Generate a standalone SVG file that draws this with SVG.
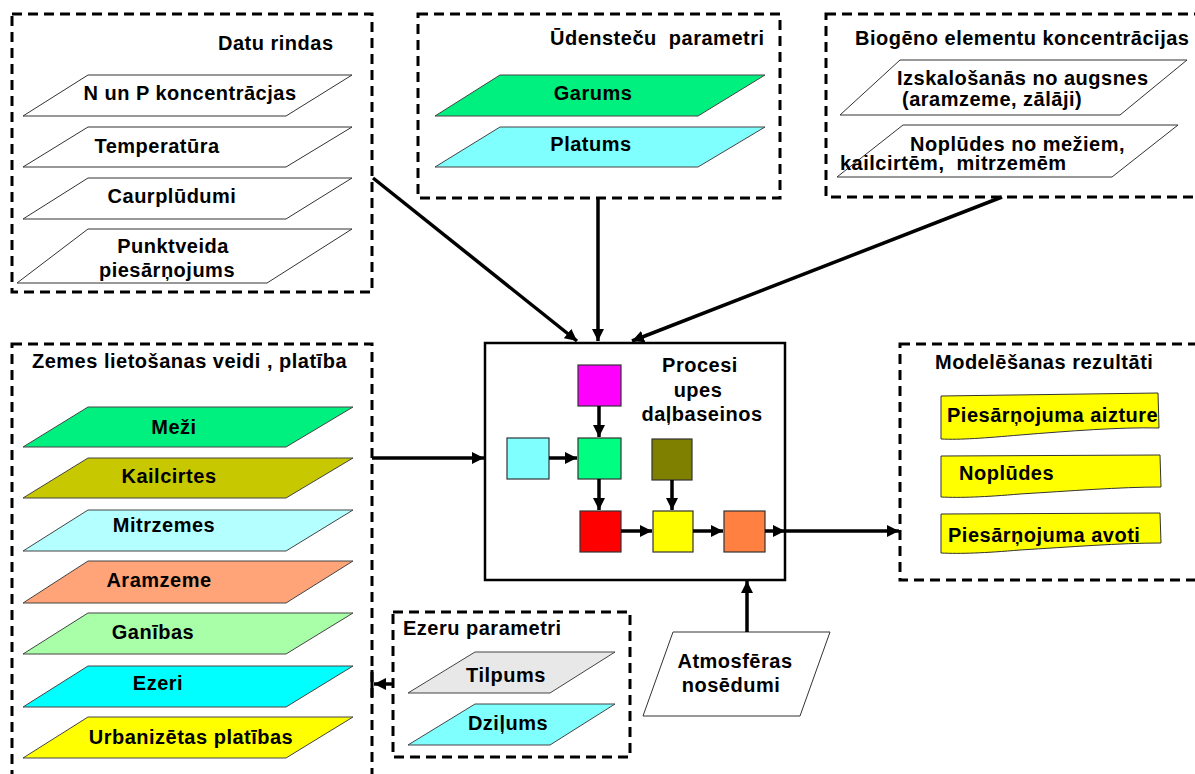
<svg xmlns="http://www.w3.org/2000/svg" width="1195" height="774" viewBox="0 0 1195 774">
<defs>
<style>
.t{font-family:"Liberation Sans",Arial,sans-serif;font-weight:bold;font-size:20px;letter-spacing:0.5px;fill:#000}
.m{text-anchor:middle}
.dash{fill:none;stroke:#000;stroke-width:3;stroke-dasharray:10 6}
.pw{fill:#fff;stroke:#333;stroke-width:1}
.pc{stroke:#444;stroke-width:1}
.sq{stroke:#333;stroke-width:1.2}
.c{fill:none;stroke:#000;stroke-width:3.5}
.doc{fill:#ffff00;stroke:#333;stroke-width:1}
</style>
<marker id="ah" markerUnits="userSpaceOnUse" markerWidth="14" markerHeight="12" refX="12" refY="6" orient="auto">
<path d="M0,0 L12,6 L0,12 z" fill="#000"/>
</marker>
</defs>
<rect width="1195" height="774" fill="#fff"/>

<g id="datu-rindas">
<rect class="dash" x="12" y="14" width="360" height="278"/>
<text class="t" x="218" y="50">Datu rindas</text>
<polygon class="pw" points="88,75 352,75 286,116 23,116"/>
<text class="t m" x="190" y="100">N un P koncentrācjas</text>
<polygon class="pw" points="88,127 352,127 286,167 23,167"/>
<text class="t m" x="157" y="153">Temperatūra</text>
<polygon class="pw" points="88,178 352,178 286,219 23,219"/>
<text class="t m" x="172" y="203">Caurplūdumi</text>
<polygon class="pw" points="88,229 352,229 267,283 17,283"/>
<text class="t m" x="173" y="253">Punktveida</text>
<text class="t m" x="167" y="277">piesārņojums</text>
</g>

<g id="udensteci">
<rect class="dash" x="418" y="14" width="362" height="184"/>
<text class="t" x="550" y="45" xml:space="preserve">Ūdensteču  parametri</text>
<polygon class="pc" fill="#00f080" points="500,75 765,75 698,116 435,116"/>
<text class="t m" x="593" y="100">Garums</text>
<polygon class="pc" fill="#80ffff" points="500,127 765,127 698,167 435,167"/>
<text class="t m" x="591" y="151">Platums</text>
</g>

<g id="biogeno">
<rect class="dash" x="826" y="14" width="380" height="183"/>
<text class="t" x="855" y="45">Biogēno elementu koncentrācijas</text>
<polygon class="pw" points="900,60 1187,60 1120,115 840,115"/>
<text class="t" x="897" y="85">Izskalošanās no augsnes</text>
<text class="t" x="902" y="106">(aramzeme, zālāji)</text>
<polygon class="pw" points="903,125 1178,125 1112,177 837,177"/>
<text class="t" x="910" y="151">Noplūdes no mežiem,</text>
<text class="t" x="840" y="170" xml:space="preserve">kailcirtēm,  mitrzemēm</text>
</g>

<g id="zemes">
<rect class="dash" x="12" y="344" width="360" height="450"/>
<text class="t" x="32" y="368">Zemes lietošanas veidi , platība</text>
<polygon class="pc" fill="#00f080" points="88,407 353,407 286,447 23,447"/>
<text class="t m" x="174" y="434">Meži</text>
<polygon class="pc" fill="#c8c800" points="88,458 353,458 286,498 23,498"/>
<text class="t m" x="169" y="483">Kailcirtes</text>
<polygon class="pc" fill="#b4ffff" points="88,510 353,510 286,551 23,551"/>
<text class="t m" x="164" y="532">Mitrzemes</text>
<polygon class="pc" fill="#ffa478" points="88,561 353,561 286,603 23,603"/>
<text class="t m" x="159" y="587">Aramzeme</text>
<polygon class="pc" fill="#a8ffa8" points="88,613 353,613 286,654 23,654"/>
<text class="t m" x="153" y="639">Ganības</text>
<polygon class="pc" fill="#00ffff" points="88,666 353,666 286,707 23,707"/>
<text class="t m" x="158" y="690">Ezeri</text>
<polygon class="pc" fill="#ffff00" points="88,717 353,717 286,758 23,758"/>
<text class="t m" x="191" y="744">Urbanizētas platības</text>
</g>

<g id="procesi">
<rect x="485" y="343" width="300" height="237" fill="#fff" stroke="#000" stroke-width="2.5"/>
<text class="t m" x="700" y="372">Procesi</text>
<text class="t m" x="698" y="397">upes</text>
<text class="t m" x="702" y="421">daļbaseinos</text>
<rect class="sq" x="578" y="365" width="43" height="41" fill="#ff00ff"/>
<rect class="sq" x="507" y="438" width="42" height="41" fill="#80ffff"/>
<rect class="sq" x="578" y="438" width="43" height="41" fill="#00ff80"/>
<rect class="sq" x="652" y="439" width="40" height="41" fill="#808000"/>
<rect class="sq" x="580" y="511" width="41" height="41" fill="#ff0000"/>
<rect class="sq" x="653" y="511" width="40" height="41" fill="#ffff00"/>
<rect class="sq" x="724" y="511" width="41" height="41" fill="#ff8040"/>
</g>

<g id="rezultati">
<rect class="dash" x="900" y="344" width="310" height="236"/>
<text class="t" x="935" y="369">Modelēšanas rezultāti</text>
<path class="doc" d="M941,396 L1158,393 L1159,428 C1120,427 1070,431 1020,435 C985,438 960,440 941,439 Z"/>
<text class="t" x="947" y="422">Piesārņojuma aizture</text>
<path class="doc" d="M941,456 L1160,455 L1161,487 C1120,487 1070,491 1020,494 C985,497 960,498 941,497 Z"/>
<text class="t" x="959" y="480">Noplūdes</text>
<path class="doc" d="M941,514 L1160,513 L1161,543 C1120,543 1070,547 1020,550 C985,553 960,554 941,553 Z"/>
<text class="t" x="948" y="542">Piesārņojuma avoti</text>
</g>

<g id="ezeru">
<rect class="dash" x="393" y="612" width="237" height="145"/>
<text class="t" x="403" y="635">Ezeru parametri</text>
<polygon class="pc" fill="#e8e8e8" points="475,652 615,652 550,693 408,693"/>
<text class="t m" x="506" y="682">Tilpums</text>
<polygon class="pc" fill="#80ffff" points="475,704 615,704 550,745 408,745"/>
<text class="t m" x="508" y="730">Dziļums</text>
</g>

<g id="atmosfera">
<polygon class="pw" points="673,632 830,632 800,716 643,716"/>
<text class="t m" x="735" y="668">Atmosfēras</text>
<text class="t m" x="731" y="692">nosēdumi</text>
</g>

<g id="connectors">
<line class="c" x1="373" y1="178" x2="577" y2="341" marker-end="url(#ah)"/>
<line class="c" x1="598" y1="198" x2="598" y2="341" marker-end="url(#ah)"/>
<line class="c" x1="1002" y1="197" x2="632" y2="341" marker-end="url(#ah)"/>
<line class="c" x1="372" y1="458" x2="484" y2="458" marker-end="url(#ah)"/>
<line class="c" x1="747" y1="632" x2="747" y2="581" marker-end="url(#ah)"/>
<line class="c" x1="785" y1="531" x2="899" y2="531" marker-end="url(#ah)"/>
<line class="c" x1="393" y1="684" x2="374" y2="684" marker-end="url(#ah)"/>
<line x1="372" y1="670" x2="372" y2="697" stroke="#000" stroke-width="3"/>
<line class="c" x1="599" y1="406" x2="599" y2="437" marker-end="url(#ah)"/>
<line class="c" x1="549" y1="458" x2="577" y2="458" marker-end="url(#ah)"/>
<line class="c" x1="599" y1="479" x2="599" y2="510" marker-end="url(#ah)"/>
<line class="c" x1="672" y1="480" x2="672" y2="510" marker-end="url(#ah)"/>
<line class="c" x1="621" y1="531" x2="652" y2="531" marker-end="url(#ah)"/>
<line class="c" x1="693" y1="531" x2="723" y2="531" marker-end="url(#ah)"/>
<line class="c" x1="765" y1="531" x2="785" y2="531" marker-end="url(#ah)"/>
</g>
</svg>
